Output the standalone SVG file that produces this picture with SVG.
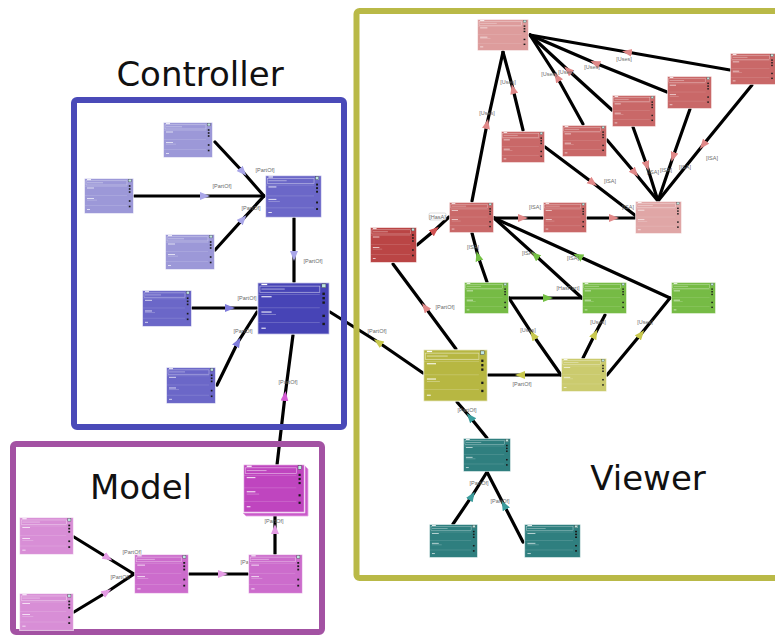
<svg xmlns="http://www.w3.org/2000/svg" width="775" height="635" viewBox="0 0 775 635">
  <style>
    .edge { fill: none; stroke: #000; stroke-width: 3.2; stroke-linecap: round; }
    .lbl { font-family: "Liberation Sans", Arial, sans-serif; font-size: 5.5px; fill: #6a6a6a; text-anchor: middle; }
    .title { font-family: "DejaVu Sans", "Liberation Sans", sans-serif; font-size: 34px; fill: #111; text-anchor: middle; }
    .box { fill: none; stroke-width: 6; }
    .a-lav { marker-mid: url(#m-lav); }
    .a-blu { marker-mid: url(#m-blu); }
    .a-mag { marker-mid: url(#m-mag); }
    .a-pnk { marker-mid: url(#m-pnk); }
    .a-red { marker-mid: url(#m-red); }
    .a-drd { marker-mid: url(#m-drd); }
    .a-grn { marker-mid: url(#m-grn); }
    .a-olv { marker-mid: url(#m-olv); }
    .a-tea { marker-mid: url(#m-tea); }
  </style>
  <defs>
    <marker id="m-lav" markerUnits="userSpaceOnUse" markerWidth="11" markerHeight="9" refX="5" refY="4" orient="auto"><path d="M0,0 L10,4 L0,8 z" fill="#a9a6e8"/></marker>
    <marker id="m-blu" markerUnits="userSpaceOnUse" markerWidth="11" markerHeight="9" refX="5" refY="4" orient="auto"><path d="M0,0 L10,4 L0,8 z" fill="#7f7cdb"/></marker>
    <marker id="m-mag" markerUnits="userSpaceOnUse" markerWidth="11" markerHeight="9" refX="5" refY="4" orient="auto"><path d="M0,0 L10,4 L0,8 z" fill="#d45ad4"/></marker>
    <marker id="m-pnk" markerUnits="userSpaceOnUse" markerWidth="11" markerHeight="9" refX="5" refY="4" orient="auto"><path d="M0,0 L10,4 L0,8 z" fill="#e49ce4"/></marker>
    <marker id="m-red" markerUnits="userSpaceOnUse" markerWidth="11" markerHeight="9" refX="5" refY="4" orient="auto"><path d="M0,0 L10,4 L0,8 z" fill="#e08888"/></marker>
    <marker id="m-drd" markerUnits="userSpaceOnUse" markerWidth="11" markerHeight="9" refX="5" refY="4" orient="auto"><path d="M0,0 L10,4 L0,8 z" fill="#d05252"/></marker>
    <marker id="m-grn" markerUnits="userSpaceOnUse" markerWidth="11" markerHeight="9" refX="5" refY="4" orient="auto"><path d="M0,0 L10,4 L0,8 z" fill="#74c044"/></marker>
    <marker id="m-olv" markerUnits="userSpaceOnUse" markerWidth="11" markerHeight="9" refX="5" refY="4" orient="auto"><path d="M0,0 L10,4 L0,8 z" fill="#c8c84e"/></marker>
    <marker id="m-tea" markerUnits="userSpaceOnUse" markerWidth="11" markerHeight="9" refX="5" refY="4" orient="auto"><path d="M0,0 L10,4 L0,8 z" fill="#3a9c9c"/></marker>

    <!-- class box: header, title field, three compartments, toolbar squares -->
    <symbol id="nd" viewBox="0 0 50 36" preserveAspectRatio="none">
      <rect x="0.5" y="0.5" width="49" height="35" stroke="#fff" stroke-opacity="0.55" stroke-width="1"/>
      <rect x="3" y="1.2" width="4" height="0.9" fill="#fff"/>
      <rect x="2" y="2.8" width="41" height="4.2" fill="none" stroke="#fff" stroke-opacity="0.6" stroke-width="0.5"/>
      <rect x="3" y="4.4" width="16" height="0.8" fill="#fff" opacity="0.45"/>
      <rect x="44.4" y="1.3" width="2.8" height="2.6" fill="#bfe6e0" stroke="#333" stroke-width="0.3"/>
      <path d="M1 8.5H43M1 17.5H43M1 27.5H43" stroke="#fff" stroke-opacity="0.25" stroke-width="0.5"/>
      <rect x="3" y="9.6" width="7" height="0.8" fill="#fff" opacity="0.85"/>
      <rect x="3" y="20" width="7" height="0.8" fill="#fff" opacity="0.85"/>
      <rect x="3" y="21.8" width="10" height="0.6" fill="#fff" opacity="0.35"/>
      <rect x="3" y="31" width="3" height="0.8" fill="#fff" opacity="0.85"/>
      <g fill="#1a1a1a">
        <rect x="44.8" y="7.2" width="1.7" height="1.6"/>
        <rect x="44.8" y="10.2" width="1.7" height="1.6"/>
        <rect x="44.8" y="13.2" width="1.7" height="1.6"/>
        <rect x="44.8" y="22.2" width="1.7" height="1.6"/>
        <rect x="44.8" y="27.7" width="1.7" height="1.6"/>
      </g>
    </symbol>
  </defs>

  <rect width="775" height="635" fill="#fff"/>

  <!-- connectors -->
  <g id="connectors">
    <path class="edge a-lav" d="M215,142 L243,172 L264,196"/>
    <path class="edge a-lav" d="M134,196 L205,196 L264,196"/>
    <path class="edge a-lav" d="M215,250 L243,219 L264,196"/>
    <path class="edge a-lav" d="M294,218 L294,256 L294,282"/>
    <path class="edge a-blu" d="M192,308 L230,308 L257,308"/>
    <path class="edge a-blu" d="M217,385 L238,342 L257,312"/>
    <path class="edge a-mag" d="M277,465 L285,396 L293,335"/>
    <path class="edge a-olv" d="M423,373 L378,342 L330,312"/>

    <path class="edge a-pnk" d="M74,537 L108,558 L134,574"/>
    <path class="edge a-pnk" d="M74,612 L107,592 L134,574"/>
    <path class="edge a-pnk" d="M189,574 L223,574 L248,574"/>
    <path class="edge a-pnk" d="M275,554 L275,529 L275,516"/>

    <path class="edge a-red" d="M730,70 L627,52 L530,35"/>
    <path class="edge a-red" d="M667,92 L595,63 L530,35"/>
    <path class="edge a-red" d="M612,110 L568,70 L530,35"/>
    <path class="edge a-red" d="M583,124 L557,77 L530,35"/>
    <path class="edge a-red" d="M523,130 L513,89 L503,52"/>
    <path class="edge a-red" d="M472,201 L487,124 L503,52"/>
    <path class="edge a-red" d="M752,85 L703,145 L658,201"/>
    <path class="edge a-red" d="M690,109 L673,157 L658,201"/>
    <path class="edge a-red" d="M633,127 L647,166 L658,201"/>
    <path class="edge a-red" d="M607,140 L635,173 L658,201"/>
    <path class="edge a-red" d="M545,147 L593,183 L636,216"/>
    <path class="edge a-red" d="M494,218 L523,218 L543,218"/>
    <path class="edge a-red" d="M587,218 L614,218 L636,218"/>
    <path class="edge a-drd" d="M417,245 L435,230 L449,217"/>
    <path class="edge a-red" d="M456,349 L425,307 L393,264"/>
    <path class="edge a-grn" d="M487,282 L478,256 L472,233"/>
    <path class="edge a-grn" d="M582,298 L535,255 L494,218"/>
    <path class="edge a-grn" d="M670,298 L578,256 L494,218"/>
    <path class="edge a-grn" d="M509,298 L548,298 L582,298"/>
    <path class="edge a-olv" d="M561,375 L533,335 L509,298"/>
    <path class="edge a-olv" d="M583,358 L595,334 L605,315"/>
    <path class="edge a-olv" d="M607,375 L641,334 L670,298"/>
    <path class="edge a-olv" d="M561,375 L520,375 L488,375"/>
    <path class="edge a-tea" d="M487,438 L470,417 L457,402"/>
    <path class="edge a-tea" d="M453,524 L472,496 L487,472"/>
    <path class="edge a-tea" d="M523,542 L504,505 L487,472"/>

    <g id="edge-labels">
      <text class="lbl" x="265" y="172">[PartOf]</text>
      <text class="lbl" x="222" y="188">[PartOf]</text>
      <text class="lbl" x="251" y="210">[PartOf]</text>
      <text class="lbl" x="313" y="263">[PartOf]</text>
      <text class="lbl" x="247" y="300">[PartOf]</text>
      <text class="lbl" x="243" y="333">[PartOf]</text>
      <text class="lbl" x="288" y="384">[PartOf]</text>
      <text class="lbl" x="377" y="333">[PartOf]</text>
      <text class="lbl" x="132" y="554">[PartOf]</text>
      <text class="lbl" x="120" y="579">[PartOf]</text>
      <text class="lbl" x="250" y="564">[PartOf]</text>
      <text class="lbl" x="274" y="523">[PartOf]</text>
      <text class="lbl" x="624" y="61">[Uses]</text>
      <text class="lbl" x="592" y="69">[Uses]</text>
      <text class="lbl" x="566" y="74">[Uses]</text>
      <text class="lbl" x="549" y="76">[Uses]</text>
      <text class="lbl" x="508" y="84">[Uses]</text>
      <text class="lbl" x="487" y="115">[Uses]</text>
      <text class="lbl" x="712" y="160">[ISA]</text>
      <text class="lbl" x="685" y="169">[ISA]</text>
      <text class="lbl" x="666" y="172">[ISA]</text>
      <text class="lbl" x="653" y="174">[ISA]</text>
      <text class="lbl" x="610" y="183">[ISA]</text>
      <text class="lbl" x="535" y="209">[ISA]</text>
      <text class="lbl" x="628" y="209">[ISA]</text>
      <text class="lbl" x="473" y="249">[ISA]</text>
      <text class="lbl" x="528" y="255">[ISA]</text>
      <text class="lbl" x="573" y="260">[ISA]</text>
      <g>
        <rect x="429" y="213" width="17" height="7" rx="1.5" fill="#fff" stroke="#bbb" stroke-width="0.5"/>
        <text class="lbl" x="437.5" y="218.5">[HasA]</text>
      </g>
      <text class="lbl" x="445" y="309">[PartOf]</text>
      <text class="lbl" x="568" y="290">[HasPart]</text>
      <text class="lbl" x="528" y="332">[Uses]</text>
      <text class="lbl" x="598" y="324">[Uses]</text>
      <text class="lbl" x="645" y="324">[Uses]</text>
      <text class="lbl" x="522" y="386">[PartOf]</text>
      <text class="lbl" x="467" y="412">[PartOf]</text>
      <text class="lbl" x="479" y="485">[PartOf]</text>
      <text class="lbl" x="500" y="503">[PartOf]</text>
    </g>
  </g>

  <!-- package frames -->
  <g id="packages">
    <rect class="box" x="74" y="100" width="270" height="327" rx="3" stroke="#4a4ab8"/>
    <rect class="box" x="13" y="444" width="309" height="188" rx="3" stroke="#a352a3"/>
    <rect class="box" x="356.5" y="11" width="430" height="567" rx="3" stroke="#b9b947"/>
    <text class="title" x="200" y="86">Controller</text>
    <text class="title" x="141" y="499">Model</text>
    <text class="title" x="648" y="490">Viewer</text>
  </g>

  <!-- controller classes -->
  <g id="c1"><use href="#nd" x="163" y="122" width="50" height="36" fill="#9c98d8"/></g>
  <g id="c2"><use href="#nd" x="84" y="178" width="50" height="36" fill="#9c98d8"/></g>
  <g id="c3"><use href="#nd" x="165" y="234" width="50" height="36" fill="#9c98d8"/></g>
  <g id="c4"><use href="#nd" x="265" y="175" width="57" height="43" fill="#6b67c8"/></g>
  <g id="c5"><use href="#nd" x="142" y="290" width="50" height="37" fill="#6b67c8"/></g>
  <g id="c6"><use href="#nd" x="257" y="282" width="73" height="53" fill="#4744b6"/></g>
  <g id="c7"><use href="#nd" x="166" y="367" width="50" height="37" fill="#6b67c8"/></g>

  <!-- model classes -->
  <g id="m1"><use href="#nd" x="19" y="517" width="55" height="38" fill="#d88ed6"/></g>
  <g id="m2"><use href="#nd" x="19" y="593" width="55" height="38" fill="#d88ed6"/></g>
  <g id="m3"><use href="#nd" x="134" y="554" width="55" height="40" fill="#cc6ccc"/></g>
  <g id="m4"><use href="#nd" x="248" y="554" width="55" height="40" fill="#cc6ccc"/></g>
  <g id="m5">
    <path d="M305,466 L308,469 L308,516 L246,516 L243,513 L305,513 z" fill="#c95ac9" stroke="#e6a6e6" stroke-width="0.8"/>
    <use href="#nd" x="243" y="464" width="62" height="49" fill="#bf45bf"/>
  </g>

  <!-- viewer classes -->
  <g id="v1"><use href="#nd" x="477" y="19" width="52" height="32" fill="#dd9c9c"/></g>
  <g id="v2"><use href="#nd" x="730" y="53" width="46" height="32" fill="#c96868"/></g>
  <g id="v3"><use href="#nd" x="667" y="76" width="45" height="33" fill="#c96868"/></g>
  <g id="v4"><use href="#nd" x="612" y="95" width="44" height="32" fill="#c96868"/></g>
  <g id="v5"><use href="#nd" x="562" y="125" width="45" height="32" fill="#c96868"/></g>
  <g id="v6"><use href="#nd" x="501" y="131" width="44" height="32" fill="#c96868"/></g>
  <g id="v7"><use href="#nd" x="635" y="201" width="47" height="33" fill="#e0a6a6"/></g>
  <g id="v8"><use href="#nd" x="449" y="202" width="45" height="31" fill="#c96868"/></g>
  <g id="v9"><use href="#nd" x="543" y="202" width="44" height="31" fill="#c96868"/></g>
  <g id="v10"><use href="#nd" x="370" y="227" width="47" height="36" fill="#ba4545"/></g>
  <g id="g1"><use href="#nd" x="464" y="282" width="45" height="32" fill="#76bb45"/></g>
  <g id="g2"><use href="#nd" x="582" y="282" width="45" height="32" fill="#76bb45"/></g>
  <g id="g3"><use href="#nd" x="671" y="282" width="45" height="32" fill="#76bb45"/></g>
  <g id="y1"><use href="#nd" x="423" y="349" width="65" height="53" fill="#b7b742"/></g>
  <g id="y2"><use href="#nd" x="561" y="358" width="46" height="34" fill="#cbcb6e"/></g>
  <g id="t1"><use href="#nd" x="463" y="438" width="48" height="34" fill="#2f7f7f"/></g>
  <g id="t2"><use href="#nd" x="429" y="524" width="49" height="34" fill="#2f7f7f"/></g>
  <g id="t3"><use href="#nd" x="524" y="524" width="57" height="34" fill="#2f7f7f"/></g>
</svg>
